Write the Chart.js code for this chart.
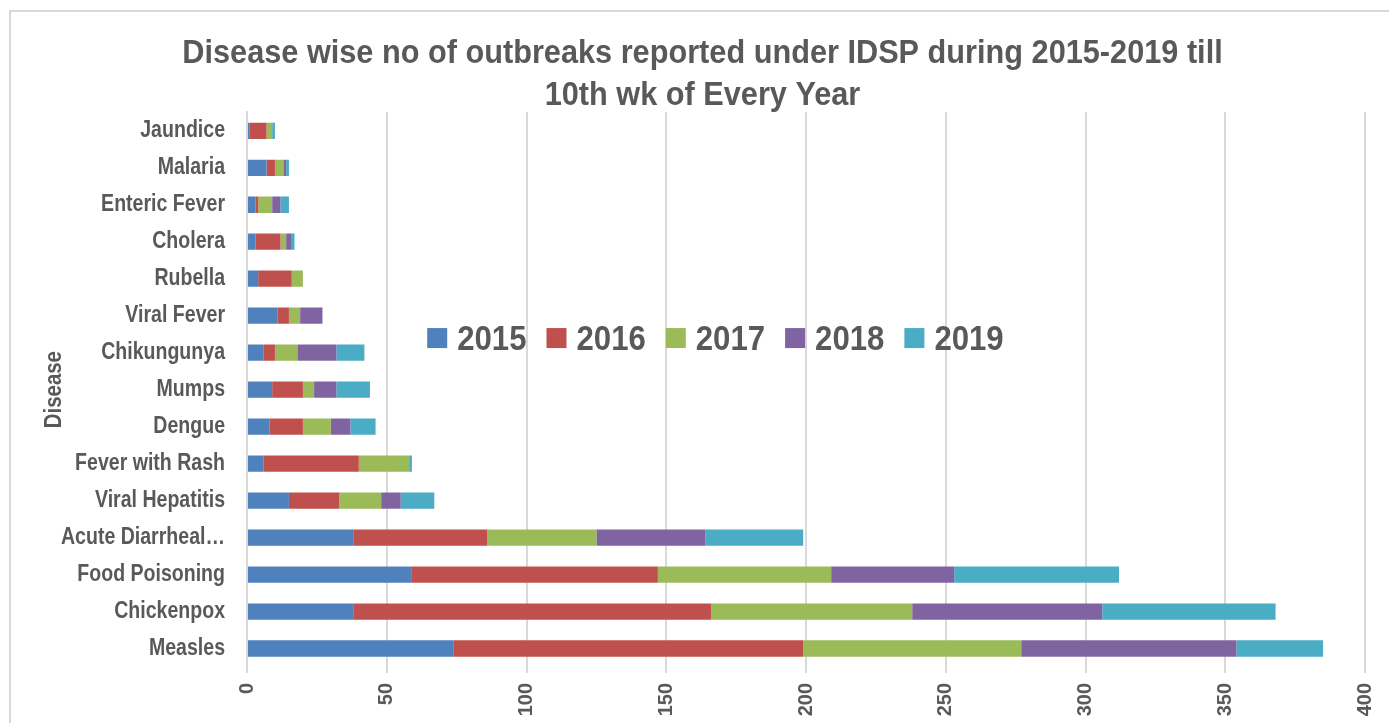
<!DOCTYPE html>
<html><head><meta charset="utf-8">
<script src="https://cdn.jsdelivr.net/npm/chart.js@4.4.0/dist/chart.umd.min.js"></script>
<style>
html,body{margin:0;padding:0;background:#fff;width:1389px;height:723px;overflow:hidden}
#frame{position:absolute;left:9px;top:10px;width:2000px;height:2000px;border-top:2px solid #d9d9d9;border-left:2px solid #d9d9d9}
#wrap{position:absolute;left:0;top:0;width:1389px;height:723px}
</style></head><body>
<div id="frame"></div>
<div id="wrap"><canvas id="c" width="1389" height="723"></canvas></div>
<script>
const categories = ['Jaundice','Malaria','Enteric Fever','Cholera','Rubella','Viral Fever','Chikungunya','Mumps','Dengue','Fever with Rash','Viral Hepatitis','Acute Diarrheal\u2026','Food Poisoning','Chickenpox','Measles'];
const years = ['2015','2016','2017','2018','2019'];
const v2015 = [1,7,3,3,4,11,6,9,8,6,15,38,59,38,74];
const v2016 = [6,3,1,9,12,4,4,11,12,34,18,48,88,128,125];
const v2017 = [2,3,5,2,4,4,8,4,10,18,15,39,62,72,78];
const v2018 = [0,1,3,2,0,8,14,8,7,0,7,39,44,68,77];
const v2019 = [1,1,3,1,0,0,10,12,9,1,12,35,59,62,31];
const xTickValues = [0,50,100,150,200,250,300,350,400];
const titleLines = ['Disease wise no of outbreaks reported under IDSP during 2015-2019 till','10th wk of Every Year'];
const axisTitle = 'Disease';
const colors = ['#4F81BD','#C0504D','#9BBB59','#8064A2','#4BACC6'];

const seriesValues = [v2015, v2016, v2017, v2018, v2019];
const GRAY = '#595959';
// fonts: a marker family "condNN" (not installed) tells the text hook to draw the
// Liberation Sans Bold glyphs horizontally condensed to NN% (narrow font look)
const fam = k => '"Liberation Sans", cond' + k + ', sans-serif';

const canvas = document.getElementById('c');
const ctx2d = canvas.getContext('2d');
const origFillText = ctx2d.fillText;
ctx2d.fillText = function (t, x, y, mw) {
  const m = /cond(\d+)/.exec(this.font);
  if (m) {
    const k = parseInt(m[1], 10) / 100;
    this.save();
    this.translate(x, y);
    this.scale(k, 1);
    if (mw !== undefined) origFillText.call(this, t, 0, 0, mw / k);
    else origFillText.call(this, t, 0, 0);
    this.restore();
  } else if (mw !== undefined) {
    origFillText.call(this, t, x, y, mw);
  } else {
    origFillText.call(this, t, x, y);
  }
};

const inlineLegend = {
  id: 'inlineLegend',
  afterDraw(chart) {
    const {ctx, chartArea: a} = chart;
    const k = 0.89;
    ctx.save();
    ctx.font = 'bold 35px ' + fam(89);
    const box = 20, gapBoxText = 10, gapItems = 20;
    const items = chart.data.datasets.map(d => ({label: d.label, color: d.backgroundColor, w: ctx.measureText(d.label).width * k}));
    const total = items.reduce((s, it) => s + box + gapBoxText + it.w, 0) + gapItems * (items.length - 1);
    let x = a.left + 0.419 * (a.right - a.left) - total / 2;
    const cy = a.top + 0.407 * (a.bottom - a.top);
    ctx.textBaseline = 'middle';
    ctx.textAlign = 'left';
    items.forEach(it => {
      ctx.fillStyle = it.color;
      ctx.fillRect(x, cy - box / 2, box, box);
      x += box + gapBoxText;
      ctx.fillStyle = GRAY;
      ctx.fillText(it.label, x, cy + 2);
      x += it.w + gapItems;
    });
    ctx.restore();
  }
};

new Chart(canvas, {
  type: 'bar',
  data: {
    labels: categories,
    datasets: years.map((y, i) => ({
      label: y,
      data: seriesValues[i],
      backgroundColor: colors[i],
      borderWidth: 0,
      categoryPercentage: 1,
      barPercentage: 0.44
    }))
  },
  options: {
    indexAxis: 'y',
    responsive: false,
    animation: false,
    layout: {padding: {left: 40, right: 24, top: 0, bottom: 0}},
    plugins: {
      legend: {display: false},
      tooltip: {enabled: false},
      title: {
        display: true,
        text: titleLines,
        color: GRAY,
        font: {family: fam(93), size: 33, weight: 'bold', lineHeight: 1.3},
        padding: {top: 32, bottom: -5.5}
      }
    },
    scales: {
      x: {
        stacked: true,
        min: 0, max: 400,
        afterBuildTicks(scale) { scale.ticks = xTickValues.map(v => ({value: v})); },
        afterFit(scale) { scale.height = 56; scale.paddingRight = 0; scale.paddingLeft = 0; },
        grid: {color: '#d9d9d9', lineWidth: 2, drawTicks: true, tickLength: 6},
        border: {display: false},
        ticks: {
          color: GRAY,
          font: {family: '"Liberation Sans", Arial, sans-serif', size: 20, weight: 'bold'},
          minRotation: 90, maxRotation: 90,
          padding: 10
        }
      },
      y: {
        stacked: true,
        afterFit(scale) { scale.width = 207; },
        grid: {display: false, drawTicks: false},
        border: {display: true, color: '#d9d9d9', width: 2},
        ticks: {
          color: GRAY,
          font: {family: fam(85), size: 23, weight: 'bold'},
          padding: 22
        },
        title: {
          display: true,
          text: axisTitle,
          color: GRAY,
          font: {family: fam(85), size: 24, weight: 'bold'},
          padding: {top: 0, bottom: 0}
        }
      }
    }
  },
  plugins: [inlineLegend]
});
</script>
</body></html>
